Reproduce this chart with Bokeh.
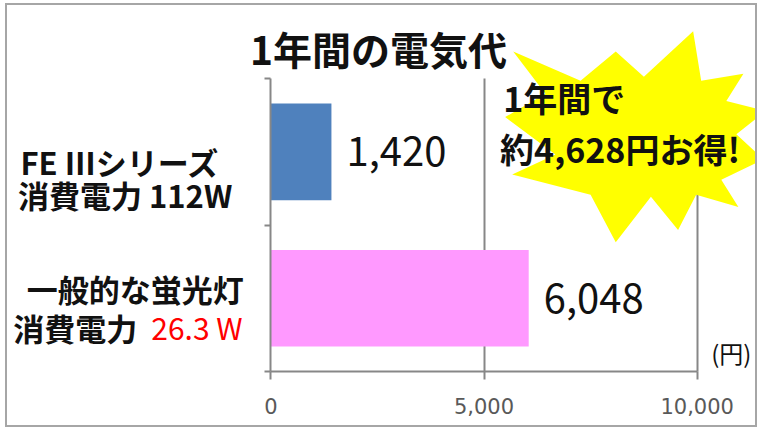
from bokeh.plotting import figure
from bokeh.models import (Range1d, FixedTicker, NumeralTickFormatter, Label,
                          PolyAnnotation, ColumnDataSource)
from bokeh.embed import file_html
from bokeh.resources import INLINE
from bokeh.core.properties import value

# ---------------- data ----------------
categories = ["一般的な蛍光灯", "FE Ⅲシリーズ"]
power_labels = ["26.3 W", "112W"]
costs = [6048, 1420]
cost_labels = ["6,048", "1,420"]
bar_colors = ["#ff99ff", "#4f81bd"]
x_ticks = [0, 5000, 10000]
title_text = "1年間の電気代"
burst_lines = ["1年間で", "約4,628円お得!"]
unit_text = "(円)"

# ---------------- layout helpers ----------------
W, H = 748, 420               # canvas size
ML, MT = 10, 7.5              # page offset of the canvas (margin + border)
AX0, AX1 = 272, 696           # page x of value 0 and 10000
AY0, AY2 = 370, 80            # page y of category-axis 0 and 2
XMAX, YMAX = 10000, 2
FONT = "Noto Sans CJK JP"


def dx(rx):
    return (rx - AX0) * XMAX / (AX1 - AX0)


def dy(ry):
    return (AY0 - ry) * YMAX / (AY0 - AY2)


p = figure(width=W, height=H, output_backend="svg", toolbar_location=None,
           x_range=Range1d(dx(ML), dx(ML + W)), y_range=Range1d(dy(MT + H), dy(MT)),
           min_border=0)
p.styles = {"border": "2px solid #a6a6a6", "margin-left": "5px", "margin-top": "3px",
            "box-sizing": "content-box"}
p.outline_line_color = None
p.background_fill_color = "white"
p.border_fill_color = "white"

GRAY = "#878787"
# axes (drawn at the data origin)
xa = p.xaxis[0]
xa.fixed_location = 0
xa.bounds = (0, XMAX)
xa.ticker = FixedTicker(ticks=x_ticks)
xa.formatter = NumeralTickFormatter(format="0,0")
xa.minor_tick_line_color = None
xa.major_tick_in = 0
xa.major_tick_out = 8
xa.axis_line_color = GRAY
xa.axis_line_width = 2
xa.major_tick_line_color = GRAY
xa.major_tick_line_width = 2
xa.major_label_text_font = "DejaVu Sans"
xa.major_label_text_font_size = "21px"
xa.major_label_text_color = "#595959"
xa.major_label_standoff = 19

ya = p.yaxis[0]
ya.fixed_location = 0
ya.bounds = (0, YMAX)
ya.ticker = FixedTicker(ticks=[0, 1, 2])
ya.minor_tick_line_color = None
ya.major_tick_in = 0
ya.major_tick_out = 6
ya.axis_line_color = GRAY
ya.axis_line_width = 2
ya.major_tick_line_color = GRAY
ya.major_tick_line_width = 2
ya.major_label_overrides = {0: "", 1: "", 2: ""}

p.ygrid.grid_line_color = None
p.xgrid.ticker = FixedTicker(ticks=x_ticks[1:])
p.xgrid.bounds = (0, XMAX)
p.xgrid.cross_bounds = (0, YMAX)
p.xgrid.grid_line_color = GRAY
p.xgrid.grid_line_width = 2

# bars
ypos = [i + 0.5 for i in range(len(categories))]
src = ColumnDataSource(dict(y=ypos, cost=costs, color=bar_colors, lab=cost_labels))
p.hbar(y="y", right="cost", left=0, height=0.66, fill_color="color",
       line_color=None, source=src)
p.text(x="cost", y="y", text="lab", source=src, x_offset=15,
       text_baseline="middle", text_align="left",
       text_font=value(FONT), text_font_size="40px", text_color="#111111")

# title
p.add_layout(Label(x=dx(379), y=dy(50), text=title_text, text_align="center",
                   text_baseline="middle", text_font=FONT, text_font_size="39px",
                   text_font_style="bold", text_color="#111111"))

# category labels (two lines each)
lab_style = dict(text_baseline="middle", text_font=FONT, text_font_size="31px",
                 text_font_style="bold", text_color="#111111")
# FE series
p.add_layout(Label(x=dx(122), y=dy(162), text=categories[1], text_align="center", **lab_style))
p.add_layout(Label(x=dx(127), y=dy(195), text="消費電力 " + power_labels[1],
                   text_align="center", **lab_style))
# fluorescent
p.add_layout(Label(x=dx(137), y=dy(288), text=categories[0], text_align="center", **lab_style))
p.add_layout(Label(x=dx(139), y=dy(326), text="消費電力", text_align="right", **lab_style))
red_style = dict(lab_style)
red_style["text_color"] = "#ff0000"
red_style["text_font_style"] = "normal"
red_style["text_font_size"] = "30px"
p.add_layout(Label(x=dx(153), y=dy(326), text=power_labels[0], text_align="left", **red_style))

# unit
p.add_layout(Label(x=dx(730), y=dy(351), text=unit_text, text_align="center",
                   text_baseline="middle", text_font=FONT, text_font_size="24px",
                   text_color="#111111"))

# starburst decoration (page-pixel vertices of the reference)
star_px = [(513, 53), (580, 82), (615, 53), (643, 78), (692, 33), (700, 82),
           (742, 75), (725, 102), (764, 112), (735, 135), (762, 160), (720, 180),
           (737, 207), (695, 195), (677, 230), (650, 197), (615, 242), (590, 195),
           (512, 175), (555, 155), (505, 118), (545, 95)]
p.add_layout(PolyAnnotation(xs=[dx(a) for a, b in star_px], ys=[dy(b) for a, b in star_px],
                            fill_color="#ffff00", fill_alpha=1.0, line_color=None))

burst_style = dict(text_baseline="middle", text_align="left", text_font=FONT,
                   text_font_size="34px", text_font_style="bold", text_color="#111111")
p.add_layout(Label(x=dx(503), y=dy(99), text=burst_lines[0], **burst_style))
p.add_layout(Label(x=dx(500), y=dy(149), text=burst_lines[1], **burst_style))

open("out.html", "w").write(file_html(p, INLINE))
